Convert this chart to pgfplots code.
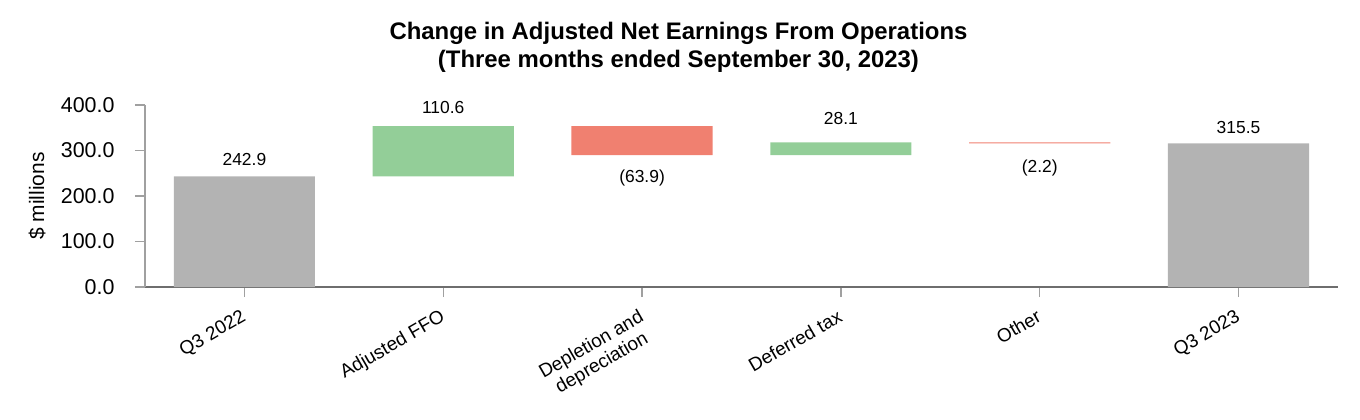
\documentclass[border=0pt]{standalone}
\usepackage{pgfplots}
\pgfplotsset{compat=1.18}
\usepackage{fontspec}
\setmainfont{Liberation Sans}
\definecolor{totgray}{RGB}{179,179,179}
\definecolor{upgreen}{RGB}{147,206,152}
\definecolor{downred}{RGB}{240,128,112}
\definecolor{xaxisc}{RGB}{110,110,110}
\definecolor{yaxisc}{RGB}{160,160,160}
\begin{document}
\begin{tikzpicture}
\useasboundingbox (-145bp,-133bp) rectangle (1215bp,287bp);
\begin{axis}[
  scale only axis,
  width=1193bp, height=182bp,
  ybar stacked,
  bar width=0.71,
  xmin=-0.5, xmax=5.5,
  ymin=0, ymax=400,
  axis x line=bottom, axis y line=left,
  axis line style={-},
  x axis line style={draw=xaxisc, line width=1.6bp},
  y axis line style={draw=yaxisc, line width=1.3bp},
  xtick={0,1,2,3,4,5},
  xticklabels={Q3 2022, Adjusted FFO, {Depletion and\\depreciation}, Deferred tax, Other, Q3 2023},
  x tick style={draw=yaxisc, line width=1.3bp},
  y tick style={draw=yaxisc, line width=1.3bp},
  tick align=outside,
  major tick length=10bp,
  ytick={0,100,200,300,400},
  yticklabel style={/pgf/number format/fixed, /pgf/number format/fixed zerofill, /pgf/number format/precision=1, /pgf/number format/assume math mode=true, font=\fontsize{21.5}{21.5}\selectfont, xshift=-17bp},
  xticklabel style={rotate=30, anchor=north east, align=center, font=\fontsize{19}{21}\selectfont, xshift=-6bp, yshift=-4.5bp},
  ylabel={\$ millions},
  ylabel style={at={(axis description cs:-0.0905,0.5)}, anchor=center, font=\fontsize{21}{21}\selectfont},
  title={Change in Adjusted Net Earnings From Operations\\(Three months ended September 30, 2023)},
  title style={at={(0.5,1)}, anchor=north, yshift=77bp, xshift=-63bp, inner sep=0pt, align=center, font=\bfseries\fontsize{24}{28}\selectfont},
  clip=false,
]
\addplot[fill=none, draw=none] coordinates {(0,0) (1,242.9) (2,289.6) (3,289.6) (4,315.5) (5,0)};
\addplot[fill=totgray, draw=none] coordinates {(0,242.9) (1,0) (2,0) (3,0) (4,0) (5,315.5)};
\addplot[fill=upgreen, draw=none] coordinates {(0,0) (1,110.6) (2,0) (3,28.1) (4,0) (5,0)};
\addplot[fill=downred, draw=none] coordinates {(0,0) (1,0) (2,63.9) (3,0) (4,2.2) (5,0)};
\node[anchor=center, yshift=16.5bp, font=\fontsize{17.5}{17.5}\selectfont] at (axis cs:0,242.9) {242.9};
\node[anchor=center, yshift=19bp, font=\fontsize{17.5}{17.5}\selectfont] at (axis cs:1,353.5) {110.6};
\node[anchor=center, yshift=-23bp, font=\fontsize{17.5}{17.5}\selectfont] at (axis cs:2,289.6) {(63.9)};
\node[anchor=center, yshift=24bp, font=\fontsize{17.5}{17.5}\selectfont] at (axis cs:3,317.7) {28.1};
\node[anchor=center, yshift=-25bp, font=\fontsize{17.5}{17.5}\selectfont] at (axis cs:4,315.5) {(2.2)};
\node[anchor=center, yshift=16bp, font=\fontsize{17.5}{17.5}\selectfont] at (axis cs:5,315.5) {315.5};
\end{axis}
\end{tikzpicture}
\end{document}
